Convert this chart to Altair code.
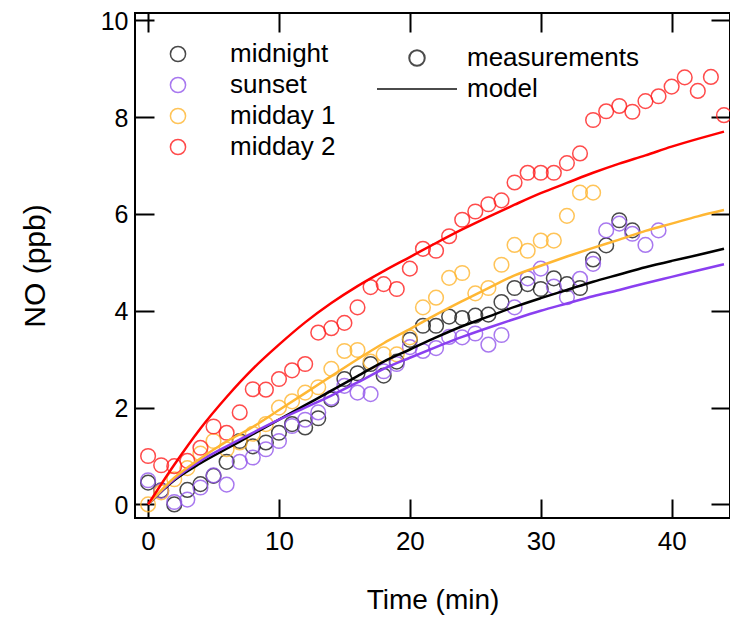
import altair as alt
import pandas as pd

# ---------------- data ----------------
series_names = ["midnight", "sunset", "midday 1", "midday 2"]

# measurements, one value per minute starting at t = 0
midnight = [0.45, 0.29, 0.00, 0.30, 0.42, 0.59, 0.88, 1.31, 1.20, 1.28,
            1.48, 1.66, 1.59, 1.78, 2.17, 2.59, 2.71, 2.90, 2.66, 2.95,
            3.40, 3.69, 3.69, 3.88, 3.85, 3.90, 3.92, 4.18, 4.47, 4.55,
            4.45, 4.67, 4.55, 4.47, 5.06, 5.35, 5.87, 5.66]
sunset = [0.50, 0.28, 0.05, 0.10, 0.35, 0.60, 0.41, 0.88, 0.97, 1.14,
          1.31, 1.62, 1.75, 1.90, 2.20, 2.45, 2.31, 2.28, 2.75, 2.90,
          3.25, 3.17, 3.23, 3.46, 3.45, 3.53, 3.30, 3.50, 4.07, 4.67,
          4.87, 4.50, 4.28, 4.66, 4.97, 5.66, 5.80, 5.59, 5.36, 5.66]
midday1 = [0.00, 0.25, 0.52, 0.75, 1.05, 1.31, 1.14, 1.28, 1.46, 1.66,
           2.00, 2.13, 2.31, 2.42, 2.80, 3.17, 3.19, 2.95, 3.10, 3.10,
           3.45, 4.07, 4.27, 4.68, 4.78, 4.36, 4.47, 4.95, 5.36, 5.24,
           5.45, 5.45, 5.96, 6.44, 6.44]
midday2 = [1.00, 0.81, 0.79, 0.90, 1.17, 1.61, 1.48, 1.90, 2.38, 2.37,
           2.59, 2.77, 2.90, 3.55, 3.64, 3.75, 4.07, 4.49, 4.55, 4.45,
           4.87, 5.28, 5.24, 5.54, 5.88, 6.05, 6.20, 6.28, 6.65, 6.85,
           6.85, 6.85, 7.05, 7.25, 7.94, 8.12, 8.23, 8.11, 8.33, 8.43,
           8.63, 8.82, 8.54, 8.83, 8.04]

# model curves
model_times = [0, 2, 4, 6, 8, 10, 12, 14, 16, 18, 20, 22, 24, 26, 28, 30,
               32, 34, 36, 38, 40, 42, 44]
model_midnight = [0, 0.50, 0.85, 1.15, 1.45, 1.75, 2.05, 2.35, 2.65, 2.95,
                  3.20, 3.45, 3.68, 3.88, 4.08, 4.26, 4.43, 4.60, 4.75,
                  4.90, 5.03, 5.15, 5.28]
model_sunset = [0, 0.52, 0.90, 1.20, 1.48, 1.75, 2.00, 2.25, 2.52, 2.80,
                3.03, 3.25, 3.46, 3.65, 3.83, 4.00, 4.15, 4.30, 4.43, 4.57,
                4.70, 4.83, 4.96]
model_midday1 = [0, 0.55, 0.95, 1.30, 1.60, 1.95, 2.30, 2.65, 3.00, 3.33,
                 3.62, 3.92, 4.20, 4.47, 4.73, 4.93, 5.12, 5.30, 5.47, 5.65,
                 5.80, 5.95, 6.08]
model_midday2 = [0, 0.82, 1.57, 2.22, 2.80, 3.30, 3.76, 4.16, 4.51, 4.82,
                 5.11, 5.40, 5.68, 5.94, 6.19, 6.43, 6.64, 6.85, 7.04, 7.21,
                 7.39, 7.55, 7.70]

x_ticks = [0, 10, 20, 30, 40]
y_ticks = [0, 2, 4, 6, 8, 10]
kinds = ["measurements", "model"]

point_colors = ["#1c1c1c", "#9357ec", "#ffb62f", "#ff1f1f"]
line_colors = ["#000000", "#8a3ff0", "#ffb733", "#ff0000"]

# ---------------- tables ----------------
rows = []
for name, vals in zip(series_names, [midnight, sunset, midday1, midday2]):
    for minute, v in enumerate(vals):
        rows.append({"series": name, "t": minute, "v": v})
pts = pd.DataFrame(rows)

mrows = []
for name, vals in zip(series_names,
                      [model_midnight, model_sunset, model_midday1, model_midday2]):
    for t, v in zip(model_times, vals):
        mrows.append({"model_series": name, "t": t, "v": v})
models = pd.DataFrame(mrows)

kind_df = pd.DataFrame({"kind": kinds})

FONT = "Liberation Sans"
TICK = 19

x_scale = alt.Scale(domain=[-1, 44.46], nice=False, zero=False)
y_scale = alt.Scale(domain=[-0.28, 10.15], nice=False, zero=False)

points = alt.Chart(pts).mark_point(
    filled=False, size=215, strokeWidth=1.5, opacity=0.8
).encode(
    x=alt.X("t:Q", scale=x_scale,
            axis=alt.Axis(orient="bottom", values=x_ticks, offset=-TICK,
                          tickSize=TICK, domain=False, labelPadding=10,
                          labelFlush=False, title="Time (min)",
                          titleFontSize=28, titlePadding=32)),
    y=alt.Y("v:Q", scale=y_scale,
            axis=alt.Axis(orient="left", values=y_ticks, offset=-TICK,
                          tickSize=TICK, domain=False, labelPadding=7,
                          labelFlush=False, labelOffset=1, labelFontSize=25,
                          title="NO (ppb)", titlePadding=50)),
    color=alt.Color("series:N",
                    scale=alt.Scale(domain=series_names, range=point_colors),
                    legend=alt.Legend(orient="none", legendX=30, legendY=28,
                                      title=None, padding=0, symbolSize=230,
                                      symbolType="circle",
                                      symbolStrokeWidth=1.5, labelOffset=39,
                                      rowPadding=5, clipHeight=26,
                                      labelFontSize=26, labelLimit=400)),
)

lines = alt.Chart(models).mark_line(
    strokeWidth=2.5, interpolate="monotone"
).encode(
    x=alt.X("t:Q", scale=x_scale,
            axis=alt.Axis(orient="top", values=x_ticks, offset=-TICK,
                          tickSize=TICK, domain=False, labels=False,
                          title=None)),
    y=alt.Y("v:Q", scale=y_scale,
            axis=alt.Axis(orient="right", values=y_ticks, offset=-TICK,
                          tickSize=TICK, domain=False, labels=False,
                          title=None)),
    color=alt.Color("model_series:N",
                    scale=alt.Scale(domain=series_names, range=line_colors),
                    legend=None),
)

kind_legend = alt.Legend(orient="none", legendX=241, legendY=32, title=None,
                         padding=0, labelOffset=9, rowPadding=5,
                         clipHeight=26, labelFontSize=26, labelLimit=400,
                         symbolStrokeColor="black", symbolStrokeWidth=2)

key = alt.Chart(kind_df).mark_point(filled=False, color="black").encode(
    shape=alt.Shape("kind:N",
                    scale=alt.Scale(domain=kinds, range=["circle", "stroke"]),
                    legend=kind_legend),
    size=alt.Size("kind:O",
                  scale=alt.Scale(domain=kinds, range=[240, 6400]),
                  legend=kind_legend),
).transform_filter(alt.datum.kind == "none")

chart = alt.layer(points, lines, key).resolve_scale(
    color="independent"
).resolve_axis(
    x="independent", y="independent"
).properties(
    width=595, height=505,
    autosize=alt.AutoSizeParams(type="none"),
    padding={"left": 127, "top": 5, "right": 0, "bottom": 98},
).configure_view(
    stroke="black", strokeWidth=2
).configure_axis(
    grid=False, tickColor="black", tickWidth=2, labelColor="black",
    titleColor="black", labelFont=FONT, titleFont=FONT, labelFontSize=26,
    titleFontSize=30, titleFontWeight="normal"
).configure_legend(
    labelFont=FONT, labelColor="black"
)

chart.save("out.html", embed_options={"renderer": "svg", "actions": False})
